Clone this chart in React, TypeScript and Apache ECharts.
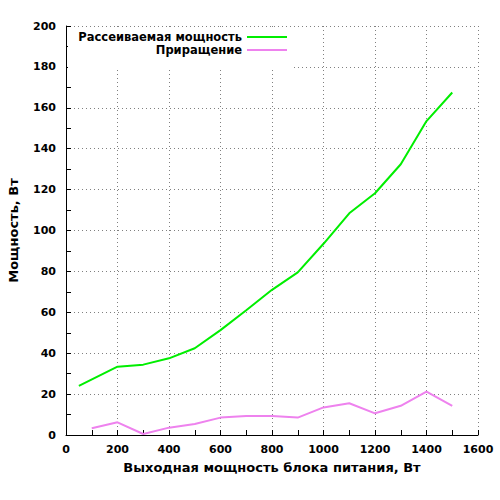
import React, { useEffect, useRef } from 'react';
import * as echarts from 'echarts';

const dissipatedX = [50, 200, 300, 400, 500, 600, 700, 800, 900, 1000, 1100, 1200, 1300, 1400, 1500];
const dissipatedY = [24, 33.4, 34.4, 37.5, 42.4, 51.3, 61, 71, 79.5, 93.5, 108.4, 118.2, 132.4, 153.5, 167.5];
const incrementX = [100, 200, 300, 400, 500, 600, 700, 800, 900, 1000, 1100, 1200, 1300, 1400, 1500];
const incrementY = [3.3, 6.2, 0.5, 3.6, 5.4, 8.5, 9.3, 9.3, 8.5, 13.5, 15.5, 10.6, 14.3, 21.2, 14.2];

const seriesNames = ['Рассеиваемая мощность', 'Приращение'];

export default function App() {
  const chartRef = useRef<HTMLDivElement>(null);

  useEffect(() => {
    if (!chartRef.current) return;
    const chart = echarts.init(chartRef.current, null, { renderer: 'svg' });

    const font = 'DejaVu Sans';
    const grid = { color: '#808080', type: [1, 3], width: 1 };

    const legendBase = {
      orient: 'horizontal',
      icon: 'rect',
      itemWidth: 40,
      itemHeight: 2,
      padding: 0,
      textStyle: { fontFamily: font, fontWeight: 'bold', fontSize: 11.5, color: '#000' },
      align: 'right',
      right: 213,
    };

    chart.setOption({
      animation: false,
      graphic: [
        {
          type: 'rect',
          z: 1,
          shape: { x: 68, y: 28, width: 226, height: 42 },
          style: { fill: '#fff' },
        },
      ],
      legend: [
        { ...legendBase, data: [seriesNames[0]], top: 31 },
        { ...legendBase, data: [seriesNames[1]], top: 44 },
      ],
      grid: { left: 66, right: 22, top: 26, bottom: 65, outerBoundsMode: 'none', containLabel: false },
      xAxis: {
        type: 'value',
        min: 0,
        max: 1600,
        interval: 200,
        name: 'Выходная мощность блока питания, Вт',
        nameLocation: 'middle',
        nameGap: 26,
        nameTextStyle: { fontFamily: font, fontWeight: 'bold', fontSize: 13, color: '#000' },
        axisLine: { lineStyle: { color: '#000', width: 1 } },
        axisTick: { inside: true, length: 5, lineStyle: { color: '#000' } },
        minorTick: { show: true, splitNumber: 2, length: 5, lineStyle: { color: '#000' } },
        axisLabel: {
          fontFamily: font, fontWeight: 'bold', fontSize: 11, color: '#000', margin: 9,
          formatter: (v: number) => String(v),
        },
        splitLine: { show: true, lineStyle: grid },
      },
      yAxis: {
        type: 'value',
        min: 0,
        max: 200,
        interval: 20,
        name: 'Мощность, Вт',
        nameLocation: 'middle',
        nameGap: 46,
        nameTextStyle: { fontFamily: font, fontWeight: 'bold', fontSize: 13, color: '#000' },
        axisLine: { show: true, lineStyle: { color: '#000', width: 1 } },
        axisTick: { show: true, inside: true, length: 5, lineStyle: { color: '#000' } },
        minorTick: { show: true, splitNumber: 2, length: 5, lineStyle: { color: '#000' } },
        axisLabel: {
          fontFamily: font, fontWeight: 'bold', fontSize: 11, color: '#000', margin: 10,
          formatter: (v: number) => String(v),
        },
        splitLine: { show: true, lineStyle: grid },
      },
      series: [
        {
          name: seriesNames[0],
          type: 'line',
          symbol: 'none',
          data: dissipatedX.map((x, i) => [x, dissipatedY[i]]),
          lineStyle: { color: '#00ee00', width: 2 },
          itemStyle: { color: '#00ee00' },
        },
        {
          name: seriesNames[1],
          type: 'line',
          symbol: 'none',
          data: incrementX.map((x, i) => [x, incrementY[i]]),
          lineStyle: { color: '#ee82ee', width: 2 },
          itemStyle: { color: '#ee82ee' },
        },
      ],
    });

    return () => chart.dispose();
  }, []);

  return (
    <div
      ref={chartRef}
      style={{ position: 'absolute', left: 0, top: 0, width: 500, height: 500, background: '#fff' }}
    />
  );
}
